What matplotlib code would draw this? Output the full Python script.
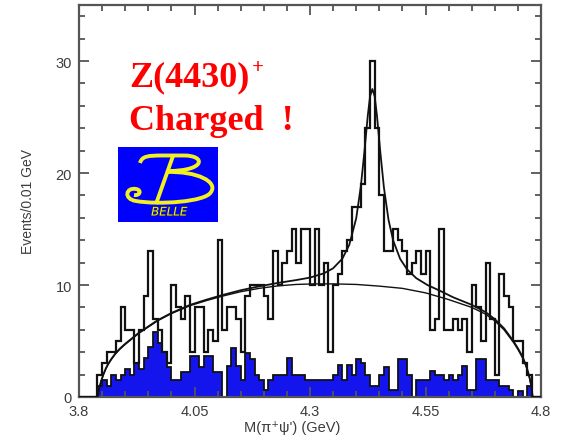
import numpy as np
import matplotlib
matplotlib.use('Agg')
import matplotlib.pyplot as plt
from matplotlib.path import Path
from matplotlib.patches import PathPatch
from matplotlib.ticker import MultipleLocator
import matplotlib.patheffects as pe

plt.rcParams['font.family'] = ['Liberation Sans', 'DejaVu Sans']

# M(pi+ psi') from 3.80 to 4.80 GeV, 0.01 GeV bins
mass_lo, mass_hi, n_bins = 3.80, 4.80, 100

# data (open histogram), events per bin
data_counts = [
    0, 0, 0, 0, 2, 3, 4, 4, 5, 8,
    6, 6, 3, 6, 9, 13, 7, 6, 4, 3,
    10, 8, 7, 9, 4, 8, 8, 4, 6, 5,
    14, 6, 8, 8, 7, 4, 9, 10, 10, 10,
    9, 7, 13, 10, 12, 13, 15, 12, 15, 15,
    10, 15, 10, 12, 4, 10, 11, 13, 14, 17,
    17, 19, 24, 30, 24, 18, 13, 13, 15, 14,
    13, 11, 12, 13, 11, 13, 6, 7, 15, 6,
    6, 7, 6, 7, 4, 10, 8, 5, 12, 7,
    2, 11, 9, 8, 5, 5, 3, 2, 0, 0,
]

# psi' sideband background (blue filled histogram)
bkg_counts = [
    0, 0, 0, 0, 1.0, 1.5, 1.0, 2.0, 1.5, 2.0,
    2.5, 2.0, 3.0, 2.5, 3.5, 4.5, 5.8, 4.8, 4.0, 2.7,
    1.5, 1.5, 2.2, 2.2, 3.7, 3.7, 2.7, 3.7, 3.7, 2.2,
    2.2, 0, 2.8, 4.4, 2.8, 1.5, 3.9, 3.4, 2.0, 1.5,
    0.6, 1.5, 2.0, 2.0, 2.0, 3.5, 2.0, 2.0, 2.0, 1.5,
    1.5, 1.5, 1.5, 1.5, 1.5, 2.0, 2.9, 1.5, 2.9, 2.0,
    3.4, 3.0, 2.0, 1.0, 1.0, 2.0, 2.7, 0.6, 0.6, 3.4,
    3.4, 2.0, 0, 1.5, 1.5, 1.5, 2.3, 2.0, 2.0, 1.5,
    2.0, 1.5, 2.0, 2.8, 0.6, 0.6, 3.4, 3.4, 1.5, 1.5,
    1.5, 1.0, 1.0, 0.6, 0, 0.5, 0, 1.0, 0, 0,
]

# fit: background component
bg_curve_x = [3.840, 3.843, 3.848, 3.853, 3.858, 3.863, 3.870, 3.878, 3.888, 3.900,
              3.915, 3.930, 3.950, 3.970, 4.000, 4.040, 4.075, 4.110, 4.150, 4.190,
              4.230, 4.270, 4.310, 4.350, 4.400, 4.450, 4.500, 4.550, 4.600, 4.650,
              4.680, 4.700, 4.720, 4.740, 4.750, 4.760, 4.768, 4.775, 4.779, 4.782]
bg_curve_y = [0.0, 0.6, 1.4, 2.0, 2.5, 2.9, 3.35, 3.8, 4.25, 4.7,
              5.2, 5.7, 6.25, 6.8, 7.45, 8.15, 8.6, 9.0, 9.4, 9.7,
              9.92, 10.05, 10.1, 10.1, 10.05, 9.9, 9.7, 9.3, 8.7, 8.0,
              7.4, 6.8, 6.0, 4.9, 4.25, 3.5, 2.7, 1.7, 0.9, 0.0]

# fit: background + Z(4430) signal
fit_curve_x = [3.840, 3.843, 3.848, 3.853, 3.858, 3.863, 3.870, 3.878, 3.888, 3.900,
               3.915, 3.930, 3.950, 3.970, 4.000, 4.040, 4.075, 4.110, 4.150, 4.190,
               4.230, 4.270, 4.300, 4.330, 4.350, 4.370, 4.385, 4.400, 4.410, 4.418,
               4.425, 4.430, 4.435, 4.440, 4.445, 4.452, 4.460, 4.470, 4.480, 4.495,
               4.510, 4.530, 4.555, 4.580, 4.610, 4.650, 4.680, 4.700, 4.720, 4.740,
               4.750, 4.760, 4.768, 4.775, 4.779, 4.782]
fit_curve_y = [0.0, 0.65, 1.45, 2.05, 2.55, 2.95, 3.4, 3.85, 4.3, 4.75,
               5.25, 5.75, 6.3, 6.85, 7.5, 8.22, 8.68, 9.1, 9.53, 9.88,
               10.18, 10.44, 10.66, 11.04, 11.49, 12.35, 13.58, 15.95, 18.8, 22.0,
               25.1, 26.85, 27.5, 26.85, 25.1, 21.95, 18.7, 15.8, 13.98, 12.34,
               11.4, 10.61, 9.98, 9.51, 8.9, 8.23, 7.58, 6.95, 6.13, 5.01,
               4.35, 3.6, 2.8, 1.8, 1.0, 0.0]

x_ticks = [3.8, 4.05, 4.3, 4.55, 4.8]
x_tick_labels = ['3.8', '4.05', '4.3', '4.55', '4.8']
y_ticks = [0, 10, 20, 30]

W, H = 563, 439
axis_grey = '#555555'
text_grey = '#3c3c3c'

fig = plt.figure(figsize=(W / 100, H / 100), dpi=100)
ax = fig.add_axes([79 / W, 1 - 398 / H, 462 / W, 392 / H])

edges = np.linspace(mass_lo, mass_hi, n_bins + 1)
ax.stairs(bkg_counts, edges, fill=True, color='#1414ec', zorder=1)
ax.stairs(bkg_counts, edges, color='#111111', lw=1.3, zorder=2)
ax.stairs(data_counts, edges, color='#111111', lw=1.6, zorder=3)
ax.plot(bg_curve_x, bg_curve_y, color='#111111', lw=1.0, zorder=4)
ax.plot(fit_curve_x, fit_curve_y, color='#111111', lw=1.3, zorder=4)

ax.set_xlim(mass_lo, mass_hi)
ax.set_ylim(0, 35)
ax.set_xticks(x_ticks)
ax.set_xticklabels(x_tick_labels)
ax.set_yticks(y_ticks)
ax.xaxis.set_minor_locator(MultipleLocator(0.05))
ax.yaxis.set_minor_locator(MultipleLocator(2))
ax.tick_params(which='both', direction='in', top=True, right=True,
               color=axis_grey, width=1.3, labelcolor=text_grey,
               labelsize=10.5)
ax.tick_params(which='major', length=7)
ax.tick_params(which='minor', length=4)
ax.tick_params(axis='x', pad=5)
ax.tick_params(axis='y', pad=5)
for sp in ax.spines.values():
    sp.set_color(axis_grey)
    sp.set_linewidth(1.6)

ax.set_xlabel("M(\u03c0\u207a\u03c8') (GeV)", fontsize=10.5, color=text_grey)
ax.xaxis.set_label_coords((292 - 79) / 462, -0.058)
ax.set_ylabel('Events/0.01 GeV', fontsize=10, color=text_grey)
ax.yaxis.set_label_coords((35 - 79) / 462, 0.5)

# red annotation
serif = ['Liberation Serif', 'DejaVu Serif']
fig.text(129 / W, 1 - 86 / H, 'Z(4430)', color='#ff0000', fontsize=26,
         fontweight='bold', family=serif, va='baseline')
fig.text(252 / W, 1 - 73 / H, '+', color='#ff0000', fontsize=15,
         fontweight='bold', family=serif, va='baseline')
fig.text(129 / W, 1 - 130 / H, 'Charged  !', color='#ff0000', fontsize=26,
         fontweight='bold', family=serif, va='baseline')

# Belle logo
logo = fig.add_axes([118 / W, 1 - 223 / H, 100 / W, 75 / H])
logo.set_facecolor('#0000ff')
logo.set_xlim(0, 100)
logo.set_ylim(75, 0)
logo.set_xticks([])
logo.set_yticks([])
for sp in logo.spines.values():
    sp.set_visible(False)

yellow = '#f2f020'
M, L, C = Path.MOVETO, Path.LINETO, Path.CURVE4
upper = Path([(22, 16), (24, 9), (30, 8.5), (45, 8.5), (66, 8.5),
              (88, 8.5), (88, 24), (50, 24)],
             [M, C, C, C, L, C, C, C])
stroke = Path([(55, 9), (38, 57)], [M, L])
lower = Path([(48, 25), (80, 24), (100, 35), (93, 45),
              (88, 55), (40, 58), (18, 54),
              (5, 52), (8, 40), (18, 42),
              (24, 43), (22, 49), (16, 48)],
             [M, C, C, C, C, C, C, C, C, C, C, C, C])
for p in (upper, stroke, lower):
    logo.add_patch(PathPatch(p, facecolor='none', edgecolor=yellow, lw=2.8))
logo.text(51, 65, 'BELLE', color=yellow, fontsize=8.5, style='italic',
          ha='center', va='center', family='DejaVu Sans',
          path_effects=[pe.withStroke(linewidth=1.0, foreground='#202060')])

fig.savefig('out.png', dpi=100)
